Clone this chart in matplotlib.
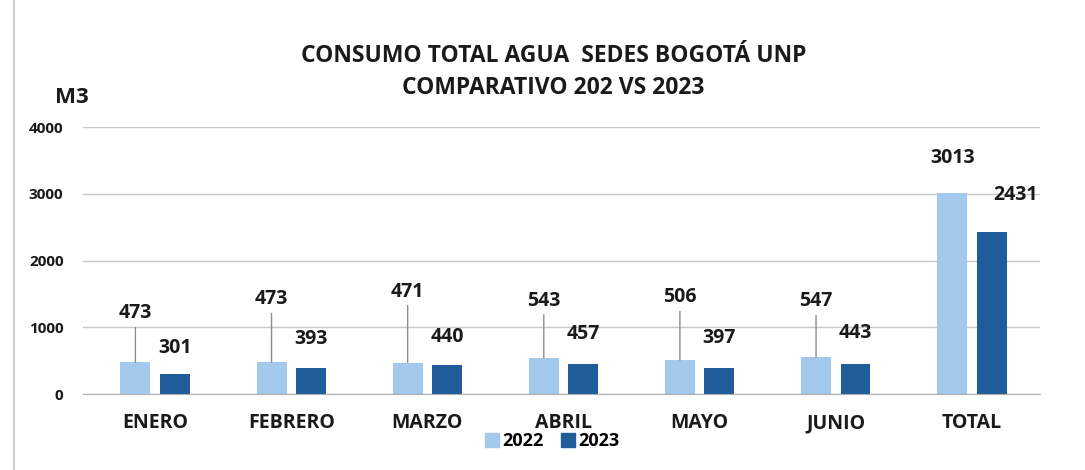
import matplotlib.pyplot as plt
from matplotlib.lines import Line2D
import numpy as np

plt.rcParams["font.family"] = ["Open Sans", "DejaVu Sans"]
plt.rcParams["font.weight"] = "bold"

# data
months = ["ENERO", "FEBRERO", "MARZO", "ABRIL", "MAYO", "JUNIO", "TOTAL"]
consumo_2022 = [473, 473, 471, 543, 506, 547, 3013]
consumo_2023 = [301, 393, 440, 457, 397, 443, 2431]
y_ticks = [0, 1000, 2000, 3000, 4000]

# label lift above bar top, in pixels (labels were moved by hand in the original)
lift_2022 = [49, 63, 71, 57, 63, 56, 35]
lift_2023 = [26, 29, 28, 30, 30, 31, 37]
dx_2023 = [0, 0, 0, 0, 0, 0, 24]

C22 = "#a3c9ec"
C23 = "#1f5c99"
TXT = "#1a1a1a"

fig = plt.figure(figsize=(10.85, 4.70), dpi=100)
ax = fig.add_axes([0.0765, 0.1617, 0.882, 0.568])

x = np.arange(len(months))
w = 0.22
off = 0.145
ax.bar(x - off, consumo_2022, width=w, color=C22, zorder=2)
ax.bar(x + off, consumo_2023, width=w, color=C23, zorder=2)

ax.set_xlim(-0.53, 6.5)
ax.set_ylim(0, 4000)
ax.set_yticks(y_ticks)
ax.set_yticklabels([str(t) for t in y_ticks], fontsize=11, fontweight="bold", color=TXT)
ax.set_xticks(x)
ax.set_xticklabels(months, fontsize=14, fontweight="bold", color=TXT)
ax.tick_params(axis="both", length=0)
ax.tick_params(axis="y", pad=14)
ax.tick_params(axis="x", pad=14)
ax.grid(axis="y", color="#c8c8c8", linewidth=1.0, zorder=0)
for s in ["top", "right", "left"]:
    ax.spines[s].set_visible(False)
ax.spines["bottom"].set_color("#b0b0b0")

px = 72 / 100  # points per pixel
for i in range(len(months)):
    v = consumo_2022[i]
    ax.annotate(str(v), (x[i] - off, v), xytext=(0, lift_2022[i] * px),
                textcoords="offset points", ha="center", va="center",
                fontsize=14, fontweight="bold", color=TXT)
    if i < len(months) - 1:
        ax.annotate("", (x[i] - off, v), xytext=(0, (lift_2022[i] - 14) * px),
                    textcoords="offset points",
                    arrowprops=dict(arrowstyle="-", color="#8c8c8c", lw=1.0,
                                    shrinkA=0, shrinkB=0))
    v = consumo_2023[i]
    ax.annotate(str(v), (x[i] + off, v), xytext=(dx_2023[i] * px, lift_2023[i] * px),
                textcoords="offset points", ha="center", va="center",
                fontsize=14, fontweight="bold", color=TXT)

fig.text(0.51, 0.880, "CONSUMO TOTAL AGUA  SEDES BOGOTÁ UNP", ha="center", va="center",
         fontsize=16.5, fontweight="bold", color=TXT)
fig.text(0.51, 0.812, "COMPARATIVO 202 VS 2023", ha="center", va="center",
         fontsize=16.5, fontweight="bold", color=TXT)
fig.text(0.066, 0.793, "M3", ha="center", va="center", fontsize=16, fontweight="bold",
         color=TXT)

handles = [Line2D([], [], marker="s", linestyle="none", markersize=10, color=C22),
           Line2D([], [], marker="s", linestyle="none", markersize=10, color=C23)]
fig.legend(handles, ["2022", "2023"], loc="center", bbox_to_anchor=(0.506, 0.062),
           ncol=2, frameon=False, handletextpad=-0.2, columnspacing=0.6,
           handlelength=1.5, prop={"weight": "bold", "size": 13})

# left frame edge of the scanned chart
fig.add_artist(Line2D([0.013, 0.013], [0, 1], color="#c0c0c0", lw=1.2,
                      transform=fig.transFigure))

fig.savefig("out.png", dpi=100)
